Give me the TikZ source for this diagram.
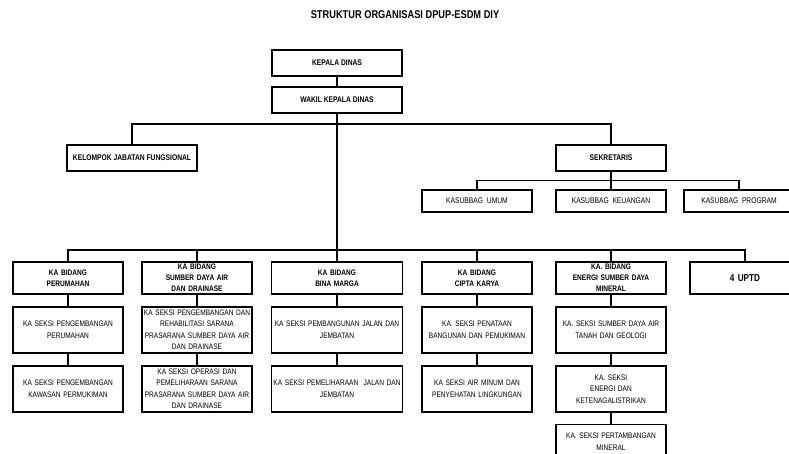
\documentclass[tikz,border=0pt]{standalone}
\usepackage{fontspec}
\setmainfont{Liberation Sans}[FakeStretch=0.82]
\usetikzlibrary{positioning}
\tikzset{
  basic/.style    = {draw, line width=1.4pt, rectangle, align=center, inner sep=1pt},
  pimpinan/.style = {basic, minimum width=130pt, minimum height=26pt,
                     font=\bfseries\fontsize{8.2}{9}\selectfont},
  sekre/.style    = {basic, minimum width=110pt, minimum height=26pt,
                     font=\bfseries\fontsize{8.2}{9}\selectfont},
  subbag/.style   = {basic, minimum width=110pt, minimum height=22pt,
                     font=\fontsize{8.2}{9}\selectfont},
  bidang/.style   = {basic, minimum width=110pt, minimum height=32pt, text width=108pt,
                     font=\bfseries\fontsize{8}{11}\selectfont},
  seksi/.style    = {basic, minimum width=110pt, minimum height=46pt, text width=108pt,
                     font=\fontsize{8}{11.5}\selectfont},
  garis/.style    = {line width=1.4pt}
}

\begin{document}
\begin{tikzpicture}[x=1pt, y=-1pt, node distance=11.5pt]
\useasboundingbox (0,0) rectangle (789,454);

% judul
\node[font=\bfseries\fontsize{11.3}{13}\selectfont] (judul) at (405,15) {STRUKTUR ORGANISASI DPUP-ESDM DIY};

% pimpinan
\node[pimpinan] (kepala) at (337,63) {KEPALA DINAS};
\node[pimpinan] (wakil) at (337,100) {WAKIL KEPALA DINAS};
\node[pimpinan] (kelompok) at (132,158) {KELOMPOK JABATAN FUNGSIONAL};
\node[sekre] (sekretaris) at (611,158) {SEKRETARIS};

% sub bagian
\node[subbag] (umum) at (477,201) {KASUBBAG\ \ UMUM};
\node[subbag] (keuangan) at (611,201) {KASUBBAG\ \ KEUANGAN};
\node[subbag] (program) at (739,201) {KASUBBAG\ \ PROGRAM};

\coordinate (bus1) at (337,124);
\coordinate (bus2) at (337,250);

% bidang, level pertama
\node[bidang] (b1) at (68,278) {KA BIDANG\\PERUMAHAN};
\node[bidang] (b2) at (197,278) {KA BIDANG\\SUMBER DAYA AIR\\DAN DRAINASE};
\node[bidang, minimum width=131pt, text width=129pt] (b3) at (337,278) {KA BIDANG\\BINA MARGA};
\node[bidang] (b4) at (477,278) {KA BIDANG\\CIPTA KARYA};
\node[bidang] (b5) at (611,278) {KA. BIDANG\\ENERGI SUMBER DAYA\\MINERAL};
\node[bidang, font=\bfseries\fontsize{10}{12}\selectfont] (b6) at (745,278) {4 UPTD};

% seksi, level kedua
\node[seksi, below=of b1] (b11) {KA SEKSI PENGEMBANGAN\\PERUMAHAN};
\node[seksi, below=of b11] (b12) {KA SEKSI PENGEMBANGAN\\KAWASAN PERMUKIMAN};

\node[seksi, below=of b2] (b21) {KA SEKSI PENGEMBANGAN DAN\\REHABILITASI SARANA\\PRASARANA SUMBER DAYA AIR\\DAN DRAINASE};
\node[seksi, below=of b21] (b22) {KA SEKSI OPERASI DAN\\PEMELIHARAAN SARANA\\PRASARANA SUMBER DAYA AIR\\DAN DRAINASE};

\node[seksi, minimum width=131pt, text width=129pt, below=of b3] (b31) {KA SEKSI PEMBANGUNAN JALAN DAN\\JEMBATAN};
\node[seksi, minimum width=131pt, text width=129pt, below=of b31] (b32) {KA SEKSI PEMELIHARAAN\ \ JALAN DAN\\JEMBATAN};

\node[seksi, below=of b4] (b41) {KA. SEKSI PENATAAN\\BANGUNAN DAN PEMUKIMAN};
\node[seksi, below=of b41] (b42) {KA SEKSI AIR MINUM DAN\\PENYEHATAN LINGKUNGAN};

\node[seksi, below=of b5] (b51) {KA. SEKSI SUMBER DAYA AIR\\TANAH DAN GEOLOGI};
\node[seksi, below=of b51] (b52) {KA. SEKSI\\ENERGI DAN\\KETENAGALISTRIKAN};
\node[seksi, minimum height=34pt, below=of b52] (b53) {KA. SEKSI PERTAMBANGAN\\MINERAL};

% garis antar pimpinan
\draw[garis] (kepala) -- (wakil);
\draw[garis] (wakil.south) -- (bus2);
\draw[garis] (kelompok.north) |- (bus1) -| (sekretaris.north);

\foreach \n in {umum,keuangan,program}
  \draw[garis] (sekretaris.south) -- ++(0,9) -| (\n.north);

% garis ke setiap bidang
\foreach \i in {1,...,6}
  \draw[garis] (bus2) -| (b\i.north);

% garis ke seksi
\foreach \i in {1,...,4}
  \draw[garis] (b\i) -- (b\i1) -- (b\i2);
\draw[garis] (b5) -- (b51) -- (b52) -- (b53);
\end{tikzpicture}
\end{document}
